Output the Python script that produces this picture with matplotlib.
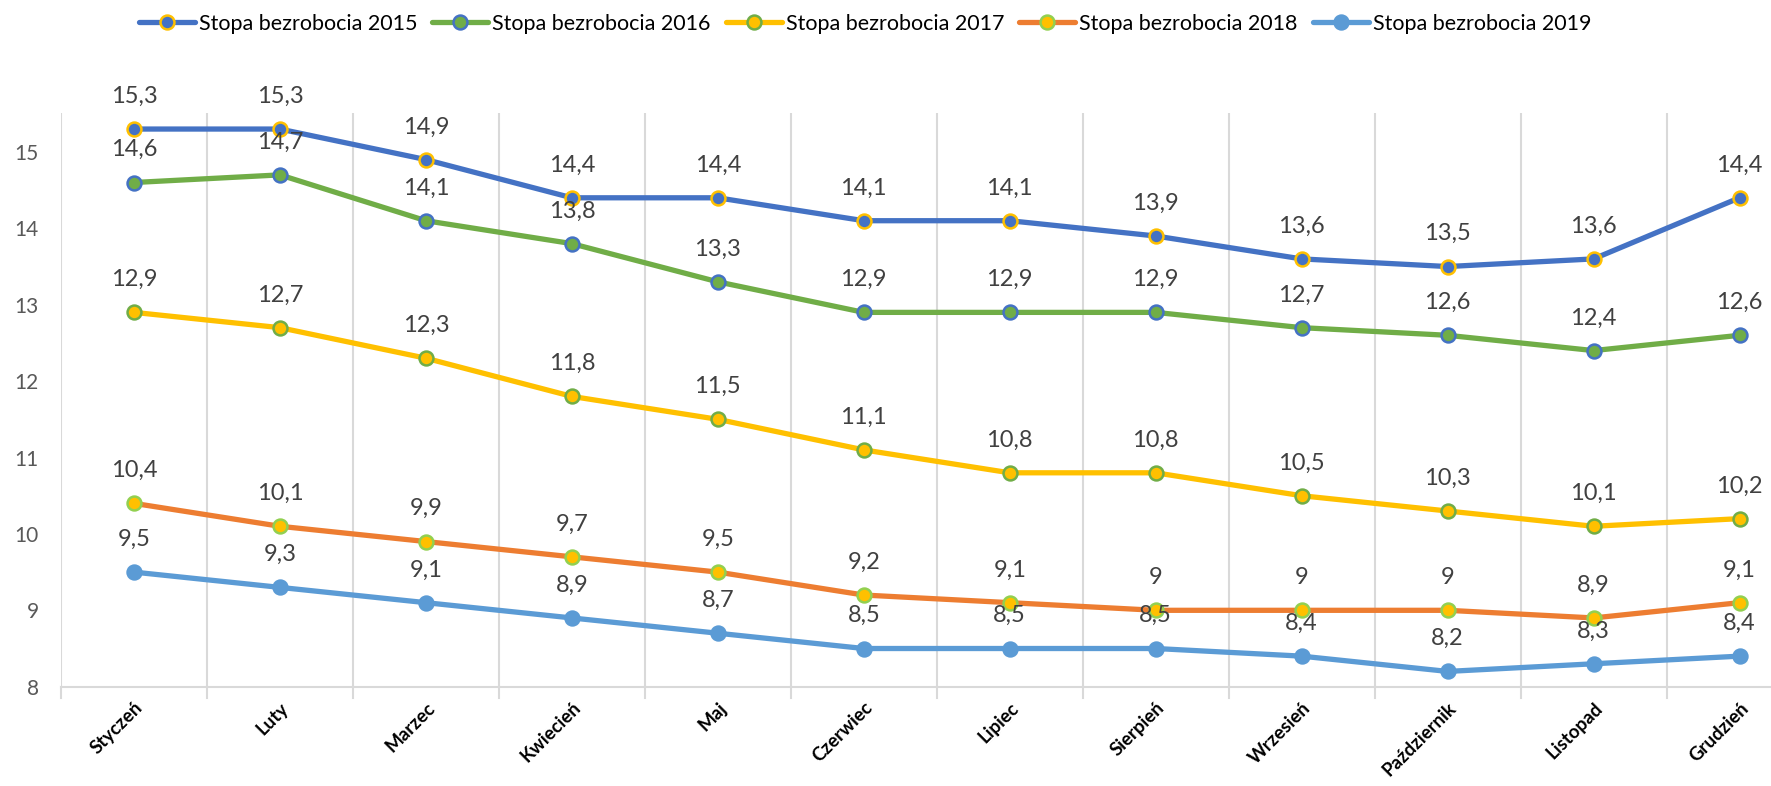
import matplotlib
matplotlib.use("Agg")
import matplotlib.pyplot as plt

plt.rcParams['font.family'] = ['Lato', 'DejaVu Sans']

months = ["Styczeń", "Luty", "Marzec", "Kwiecień", "Maj", "Czerwiec", "Lipiec",
          "Sierpień", "Wrzesień", "Październik", "Listopad", "Grudzień"]
s2015 = [15.3, 15.3, 14.9, 14.4, 14.4, 14.1, 14.1, 13.9, 13.6, 13.5, 13.6, 14.4]
s2016 = [14.6, 14.7, 14.1, 13.8, 13.3, 12.9, 12.9, 12.9, 12.7, 12.6, 12.4, 12.6]
s2017 = [12.9, 12.7, 12.3, 11.8, 11.5, 11.1, 10.8, 10.8, 10.5, 10.3, 10.1, 10.2]
s2018 = [10.4, 10.1, 9.9, 9.7, 9.5, 9.2, 9.1, 9.0, 9.0, 9.0, 8.9, 9.1]
s2019 = [9.5, 9.3, 9.1, 8.9, 8.7, 8.5, 8.5, 8.5, 8.4, 8.2, 8.3, 8.4]
names = ["Stopa bezrobocia 2015", "Stopa bezrobocia 2016", "Stopa bezrobocia 2017",
         "Stopa bezrobocia 2018", "Stopa bezrobocia 2019"]
yticks = [8, 9, 10, 11, 12, 13, 14, 15]

series = [s2015, s2016, s2017, s2018, s2019]
styles = [
    dict(color="#4472C4", mfc="#4472C4", mec="#FFC000"),
    dict(color="#70AD47", mfc="#70AD47", mec="#4472C4"),
    dict(color="#FFC000", mfc="#FFC000", mec="#70AD47"),
    dict(color="#ED7D31", mfc="#FFC000", mec="#92D050"),
    dict(color="#5B9BD5", mfc="#5B9BD5", mec="#5B9BD5"),
]

fig = plt.figure(figsize=(17.71, 7.86), dpi=100)
ax = fig.add_axes([61/1771, 1-686.7/786, 1-61/1771, (686.7-113)/786])

x = list(range(len(months)))
handles = []
for vals, st, nm in zip(series, styles, names):
    h, = ax.plot(x, vals, color=st["color"], lw=3.8, marker="o", ms=10,
                 mfc=st["mfc"], mec=st["mec"], mew=1.8, label=nm, zorder=3,
                 solid_capstyle="round", solid_joinstyle="round")
    handles.append(h)

for vals in series:
    for xi, v in zip(x, vals):
        txt = (f"{v:.1f}".replace(".", ",")) if abs(v - round(v)) > 1e-9 else f"{int(round(v))}"
        ax.annotate(txt, (xi, v), xytext=(0, 16), textcoords="offset points",
                    ha="center", va="bottom", fontsize=17, color="#404040", zorder=5)

ax.set_xlim(-0.5, (1771-133.5)/146)
ax.set_ylim(8, 15.51)
ax.set_yticks(yticks)
ax.set_yticklabels([str(t) for t in yticks], fontsize=15, color="#595959")
ax.tick_params(axis="y", length=0, pad=16)

ax.set_xticks(x)
ax.set_xticklabels(months, rotation=45, ha="right", rotation_mode="anchor",
                   fontsize=13.5, fontweight="bold", color="black")
ax.tick_params(axis="x", length=0, pad=9)

for b in [i + 0.5 for i in range(-1, len(months))]:
    ax.axvline(b, color="#D9D9D9", lw=1.5, zorder=1)
    ax.plot([b, b], [0, -0.02], transform=ax.get_xaxis_transform(), color="#D9D9D9",
            lw=1.5, clip_on=False)

for s in ["top", "right", "left"]:
    ax.spines[s].set_visible(False)
ax.spines["bottom"].set_color("#D9D9D9")
ax.spines["bottom"].set_linewidth(1.5)

fig.legend(handles=handles, loc="center", bbox_to_anchor=(865/1771, 1-24/786),
           ncol=5, frameon=False, fontsize=15.5, handlelength=2.6, columnspacing=0.7,
           handletextpad=0.19)

fig.savefig("out.png", dpi=100)
